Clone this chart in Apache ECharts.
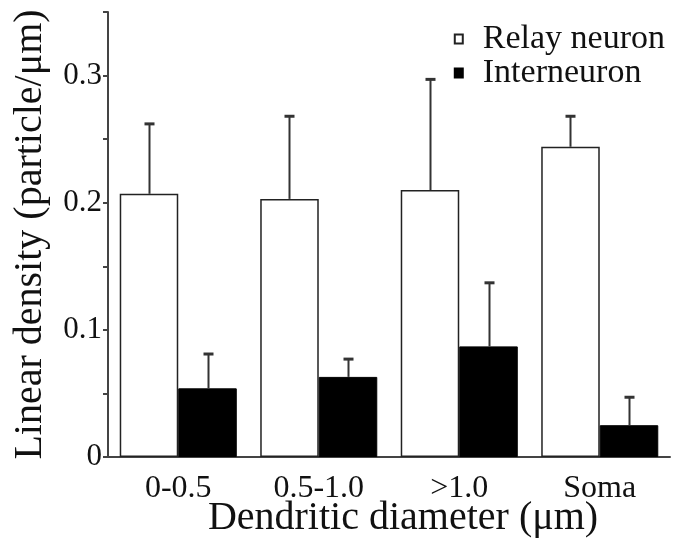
<!DOCTYPE html>
<html>
<head>
<meta charset="utf-8">
<script src="https://cdn.jsdelivr.net/npm/echarts@6/dist/echarts.min.js"></script>
<style>
  html, body { margin: 0; background: #fff; }
  #chart { width: 675px; height: 550px; }
</style>
</head>
<body>
<div id="chart"></div>
<script>
const categories = ['0-0.5', '0.5-1.0', '>1.0', 'Soma'];
const relayMean = [0.207, 0.203, 0.210, 0.244];
const relayErr = [0.055, 0.065, 0.087, 0.024];
const interMean = [0.054, 0.063, 0.087, 0.025];
const interErr = [0.027, 0.014, 0.050, 0.022];
const yTickLabels = ['0', '0.1', '0.2', '0.3'];

const font = 'Liberation Serif';
const catGap = 0.167;

// upper error bar only, with a short cap
function errorSeries(name, mean, err, side) {
  return {
    type: 'custom',
    name: name,
    z: 5,
    silent: true,
    data: mean.map((m, i) => [i, m, m + err[i]]),
    renderItem: function (params, api) {
      const catW = api.size([1, 0])[0];
      const barW = catW * (1 - catGap) / 2;
      const base = api.coord([api.value(0), api.value(1)]);
      const top = api.coord([api.value(0), api.value(2)]);
      const x = Math.round(base[0] + side * barW / 2) + 0.5;
      return {
        type: 'group',
        children: [
          { type: 'line', shape: { x1: x, y1: base[1], x2: x, y2: top[1] },
            style: { stroke: '#333', lineWidth: 2 } },
          { type: 'line', shape: { x1: x - 5, y1: top[1], x2: x + 5, y2: top[1] },
            style: { stroke: '#333', lineWidth: 3 } }
        ]
      };
    }
  };
}

const chart = echarts.init(document.getElementById('chart'));
chart.setOption({
  animation: false,
  grid: { left: 108, right: 5, top: 12, bottom: 93, outerBoundsMode: 'none' },
  legend: {
    data: ['Relay neuron', 'Interneuron'],
    orient: 'vertical',
    right: 5,
    top: 17,
    itemGap: 0,
    itemWidth: 8,
    itemHeight: 9,
    icon: 'rect',
    textStyle: { fontFamily: font, fontSize: 34, color: '#111', lineHeight: 30, padding: [0, 0, 0, 15] }
  },
  xAxis: {
    type: 'category',
    data: categories,
    name: 'Dendritic diameter (\u03bcm)',
    nameLocation: 'middle',
    nameGap: 41,
    nameMoveOverlap: false,
    nameTextStyle: { fontFamily: font, fontSize: 40, color: '#111', padding: [0, 0, 0, 28] },
    axisLine: { lineStyle: { color: '#444', width: 2 } },
    axisTick: { show: false },
    axisLabel: { fontFamily: font, fontSize: 32, color: '#111', margin: 16 }
  },
  yAxis: {
    type: 'value',
    min: 0,
    max: 0.35,
    interval: 0.05,
    name: 'Linear density (particle/\u03bcm)',
    nameLocation: 'middle',
    nameGap: 58,
    nameMoveOverlap: false,
    nameTextStyle: { fontFamily: font, fontSize: 40, color: '#111' },
    splitLine: { show: false },
    axisLine: { show: true, lineStyle: { color: '#444', width: 2 } },
    axisTick: { show: true, length: 5, lineStyle: { color: '#444', width: 2 } },
    axisLabel: {
      fontFamily: font, fontSize: 31, color: '#111', margin: 6,
      formatter: function (v) {
        const k = Math.round(v * 20);
        return k % 2 === 0 && yTickLabels[k / 2] !== undefined ? yTickLabels[k / 2] : '';
      }
    }
  },
  series: [
    {
      name: 'Relay neuron',
      type: 'bar',
      data: relayMean,
      barGap: '0%',
      barCategoryGap: (catGap * 100) + '%',
      itemStyle: { color: '#fff', borderColor: '#222', borderWidth: 1.5 }
    },
    {
      name: 'Interneuron',
      type: 'bar',
      data: interMean,
      barGap: '0%',
      barCategoryGap: (catGap * 100) + '%',
      itemStyle: { color: '#000', borderColor: '#000', borderWidth: 1 }
    },
    errorSeries('relayErr', relayMean, relayErr, -1),
    errorSeries('interErr', interMean, interErr, 1)
  ]
});
</script>
</body>
</html>
